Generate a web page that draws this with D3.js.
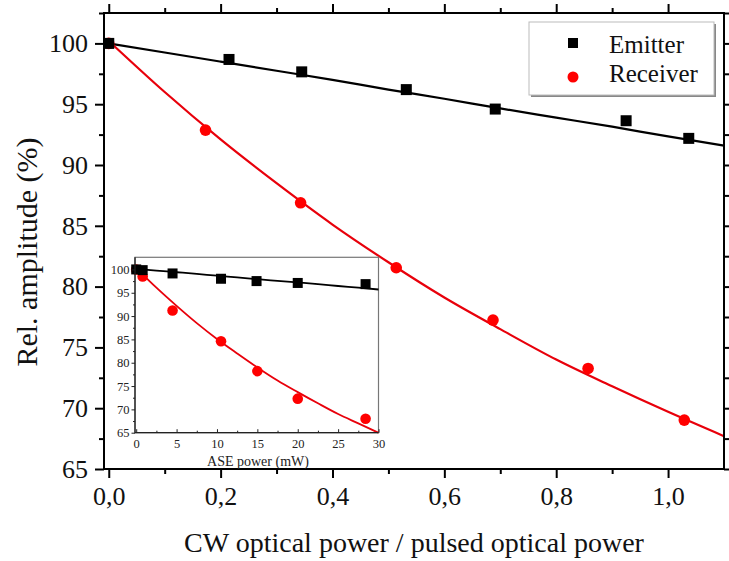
<!DOCTYPE html>
<html>
<head>
<meta charset="utf-8">
<script src="https://cdn.jsdelivr.net/npm/d3@7"></script>
<style>
  body { margin: 0; background: #fff; }
  svg { display: block; font-family: "Liberation Serif", "Times New Roman", serif; }
</style>
</head>
<body>
<script>
// main plot data
const emitterX = [0, 0.215, 0.345, 0.532, 0.691, 0.925, 1.037];
const emitterY = [100, 98.68, 97.66, 96.2, 94.6, 93.64, 92.19];
const receiverX = [0, 0.173, 0.343, 0.514, 0.687, 0.857, 1.029];
const receiverY = [100, 92.87, 86.89, 81.55, 77.25, 73.27, 69.02];

// fitted curves
const fitX = [0, 0.1, 0.2, 0.3, 0.4, 0.5, 0.6, 0.7, 0.8, 0.9, 1.0, 1.1];
const emitterFit = [100.0, 99.25, 98.5, 97.75, 97.0, 96.2, 95.45, 94.65, 93.9, 93.15, 92.35, 91.6];
const receiverFit = [100.2, 96.0, 92.1, 88.5, 85.1, 82.0, 79.1, 76.5, 74.0, 71.8, 69.7, 67.7];

// inset data
const insetEmitterX = [0, 0.8, 4.5, 10.5, 14.9, 20.0, 28.4];
const insetEmitterY = [100, 99.85, 99.14, 98.0, 97.5, 97.1, 96.85];
const insetReceiverX = [0, 0.8, 4.5, 10.5, 15.0, 20.0, 28.4];
const insetReceiverY = [100, 98.5, 91.2, 84.6, 78.2, 72.3, 68.0];
const insetFitX = [0, 2.5, 5, 7.5, 10, 12.5, 15, 17.5, 20, 22.5, 25, 27.5, 30];
const insetEmitterFit = [100.1, 99.75, 99.4, 99.05, 98.65, 98.3, 97.9, 97.55, 97.2, 96.85, 96.45, 96.1, 95.7];
const insetReceiverFit = [100.3, 96.1, 92.2, 88.5, 85.1, 82.0, 79.0, 76.2, 73.7, 71.3, 69.0, 67.0, 65.0];

// ticks and labels
const xTicks = [0, 0.2, 0.4, 0.6, 0.8, 1.0];
const xMinor = [0.1, 0.3, 0.5, 0.7, 0.9];
const yTicks = [65, 70, 75, 80, 85, 90, 95, 100];
const yMinor = [67.5, 72.5, 77.5, 82.5, 87.5, 92.5, 97.5, 102.5];
const insetXTicks = [0, 5, 10, 15, 20, 25, 30];
const insetXMinor = [2.5, 7.5, 12.5, 17.5, 22.5, 27.5];
const insetYTicks = [65, 70, 75, 80, 85, 90, 95, 100];
const insetYMinor = [67.5, 72.5, 77.5, 82.5, 87.5, 92.5, 97.5];
const seriesNames = ["Emitter", "Receiver"];
const xTitle = "CW optical power / pulsed optical power";
const yTitle = "Rel. amplitude (%)";
const insetXTitle = "ASE power (mW)";

const W = 729, H = 561;
const frame = {left: 104, right: 724, top: 13, bottom: 469};
const red = "#ff0000", redLine = "#e8000b";

const svg = d3.select("body").append("svg")
  .attr("width", W)
  .attr("height", H);

const x = d3.scaleLinear().domain([-0.0085, 1.1]).range([frame.left, frame.right]);
const y = d3.scaleLinear().domain([65, 102.5]).range([frame.bottom, frame.top]);
const comma = d => d.toFixed(1).replace(".", ",");

// fit lines
const line = d3.line().curve(d3.curveMonotoneX);
const main = svg.append("g");
main.append("path")
  .attr("d", line(fitX.map((v, i) => [x(v), y(emitterFit[i])])))
  .attr("fill", "none").attr("stroke", "#000").attr("stroke-width", 2.2);
main.append("path")
  .attr("d", line(fitX.map((v, i) => [x(v), y(receiverFit[i])])))
  .attr("fill", "none").attr("stroke", redLine).attr("stroke-width", 2.2);

// markers
main.selectAll(".rc").data(receiverX).enter().append("circle")
  .attr("cx", d => x(d))
  .attr("cy", (d, i) => y(receiverY[i]))
  .attr("r", 5.8)
  .attr("fill", red);
main.selectAll(".em").data(emitterX).enter().append("rect")
  .attr("x", d => x(d) - 5.5)
  .attr("y", (d, i) => y(emitterY[i]) - 5.5)
  .attr("width", 11).attr("height", 11)
  .attr("fill", "#000");

// axes
function addAxis(axis, tr) {
  const g = svg.append("g").attr("transform", tr).call(axis);
  g.select(".domain").remove();
  g.selectAll("line").attr("stroke-width", 2);
  return g;
}
const bottomMaj = addAxis(d3.axisBottom(x).tickValues(xTicks).tickSize(9).tickPadding(9).tickFormat(comma),
  "translate(0," + frame.bottom + ")");
bottomMaj.selectAll("text").attr("font-size", 26).attr("font-family", "Liberation Serif").attr("fill", "#111");
addAxis(d3.axisBottom(x).tickValues(xMinor).tickSize(5).tickFormat(""), "translate(0," + frame.bottom + ")");
addAxis(d3.axisTop(x).tickValues(xTicks).tickSize(9).tickFormat(""), "translate(0," + frame.top + ")");
addAxis(d3.axisTop(x).tickValues(xMinor).tickSize(5).tickFormat(""), "translate(0," + frame.top + ")");
const leftMaj = addAxis(d3.axisLeft(y).tickValues(yTicks).tickSize(9).tickPadding(7),
  "translate(" + frame.left + ",0)");
leftMaj.selectAll("text").attr("font-size", 26).attr("font-family", "Liberation Serif").attr("fill", "#111");
addAxis(d3.axisLeft(y).tickValues(yMinor).tickSize(5).tickFormat(""), "translate(" + frame.left + ",0)");
addAxis(d3.axisRight(y).tickValues(yTicks).tickSize(6).tickFormat(""), "translate(" + frame.right + ",0)");
addAxis(d3.axisRight(y).tickValues(yMinor).tickSize(6).tickFormat(""), "translate(" + frame.right + ",0)");

svg.append("rect")
  .attr("x", frame.left).attr("y", frame.top)
  .attr("width", frame.right - frame.left).attr("height", frame.bottom - frame.top)
  .attr("fill", "none").attr("stroke", "#000").attr("stroke-width", 2);

// axis titles
svg.append("text")
  .attr("x", 414).attr("y", 552)
  .attr("text-anchor", "middle").attr("font-size", 28).attr("fill", "#111")
  .text(xTitle);
svg.append("text")
  .attr("transform", "translate(37,252) rotate(-90)")
  .attr("text-anchor", "middle").attr("font-size", 30).attr("fill", "#111")
  .text(yTitle);

// legend
const leg = svg.append("g");
leg.append("rect").attr("x", 531).attr("y", 24).attr("width", 185).attr("height", 73).attr("fill", "#888");
leg.append("rect").attr("x", 529).attr("y", 22).attr("width", 185).attr("height", 73)
  .attr("fill", "#fff").attr("stroke", "#bbb").attr("stroke-width", 1);
leg.append("rect").attr("x", 568).attr("y", 38).attr("width", 10).attr("height", 10).attr("fill", "#000");
leg.append("circle").attr("cx", 573).attr("cy", 77).attr("r", 5.5).attr("fill", red);
leg.selectAll(".lt").data(seriesNames).enter().append("text")
  .attr("x", 609).attr("y", (d, i) => 53 + i * 29)
  .attr("font-size", 25).attr("fill", "#111")
  .text(d => d);

// inset
const inset = {left: 135, right: 378.5, top: 257.3, bottom: 432.7};
const ix = d3.scaleLinear().domain([-0.15, 30]).range([inset.left, inset.right]);
const iy = d3.scaleLinear().domain([65, 102.6]).range([inset.bottom, inset.top]);
const ins = svg.append("g");
ins.append("rect")
  .attr("x", inset.left).attr("y", inset.top)
  .attr("width", inset.right - inset.left).attr("height", inset.bottom - inset.top)
  .attr("fill", "#fff").attr("stroke", "#777").attr("stroke-width", 1.2);

ins.append("path")
  .attr("d", line(insetFitX.map((v, i) => [ix(v), iy(insetEmitterFit[i])])))
  .attr("fill", "none").attr("stroke", "#000").attr("stroke-width", 1.8);
ins.append("path")
  .attr("d", line(insetFitX.map((v, i) => [ix(v), iy(insetReceiverFit[i])])))
  .attr("fill", "none").attr("stroke", redLine).attr("stroke-width", 1.8);
ins.selectAll(".irc").data(insetReceiverX).enter().append("circle")
  .attr("cx", d => ix(d))
  .attr("cy", (d, i) => iy(insetReceiverY[i]))
  .attr("r", 5.3)
  .attr("fill", red);
ins.selectAll(".iem").data(insetEmitterX).enter().append("rect")
  .attr("x", d => ix(d) - 5)
  .attr("y", (d, i) => iy(insetEmitterY[i]) - 5)
  .attr("width", 10).attr("height", 10)
  .attr("fill", "#000");

function insetAxis(axis, tr) {
  const g = ins.append("g").attr("transform", tr).call(axis);
  g.select(".domain").remove();
  g.selectAll("line").attr("stroke", "#222").attr("stroke-width", 1);
  g.selectAll("text").attr("font-size", 12.5).attr("font-family", "Liberation Serif").attr("fill", "#222");
  return g;
}
insetAxis(d3.axisBottom(ix).tickValues(insetXTicks).tickSize(-3.5).tickPadding(6).tickFormat(d3.format("d")),
  "translate(0," + inset.bottom + ")");
insetAxis(d3.axisBottom(ix).tickValues(insetXMinor).tickSize(-2).tickFormat(""), "translate(0," + inset.bottom + ")");
insetAxis(d3.axisLeft(iy).tickValues(insetYTicks).tickSize(3.5).tickPadding(2),
  "translate(" + inset.left + ",0)");
insetAxis(d3.axisLeft(iy).tickValues(insetYMinor).tickSize(2).tickFormat(""), "translate(" + inset.left + ",0)");
ins.append("path")
  .attr("d", d3.line()([[inset.left, inset.top], [inset.left, inset.bottom], [inset.right, inset.bottom]]))
  .attr("fill", "none").attr("stroke", "#222").attr("stroke-width", 1.3);
ins.append("text")
  .attr("x", 258).attr("y", 465.5)
  .attr("text-anchor", "middle").attr("font-size", 14).attr("fill", "#222")
  .text(insetXTitle);
</script>
</body>
</html>
